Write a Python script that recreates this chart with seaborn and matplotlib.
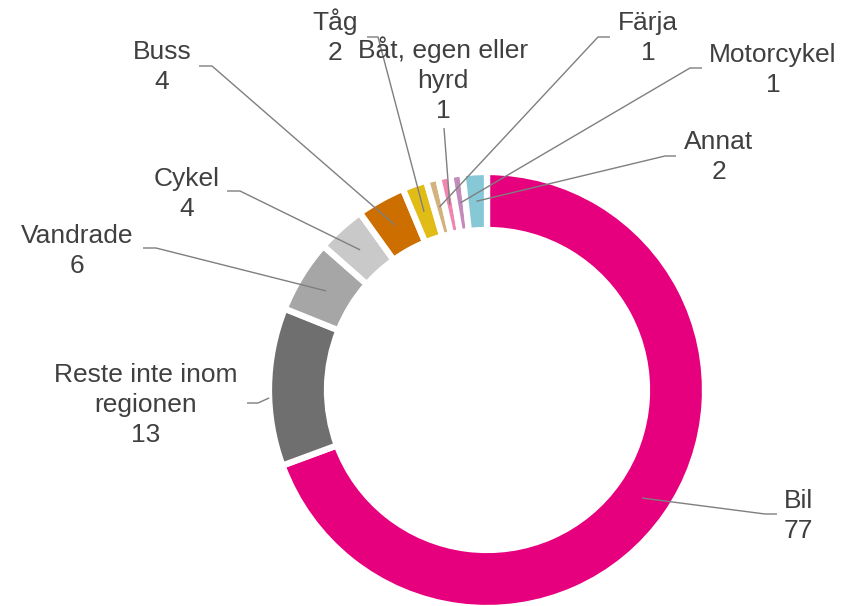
import numpy as np
import matplotlib
matplotlib.use("Agg")
import matplotlib.pyplot as plt
import seaborn as sns

# data, clockwise from 12 o'clock
categories = ["Bil", "Reste inte inom\nregionen", "Vandrade", "Cykel", "Buss",
              "Tåg", "Färja", "Båt, egen eller\nhyrd", "Motorcykel", "Annat"]
values = [77, 13, 6, 4, 4, 2, 1, 1, 1, 2]
colors = ["#E6007E", "#6F6F6F", "#A6A6A6", "#C9C9C9", "#CC6F00",
          "#E2BC16", "#D2B37E", "#EE86AE", "#C38BBB", "#86C8D6"]

# label centres and leader-line start/elbow (pixels, y from top)
label_pos = [(798, 516), (146, 405), (77, 251), (187, 194), (162, 67),
             (335, 37), (648, 38), (443, 80), (773, 70), (719, 157)]
leaders = [[(777, 514), (765, 514)],
           [(247, 403), (258, 403)],
           [(143, 248), (156, 248)],
           [(227, 191), (240, 191)],
           [(199, 66), (212, 66)],
           [(367, 37), (378, 37)],
           [(610, 37), (598, 37)],
           [(444, 128)],
           [(702, 68), (690, 68)],
           [(676, 156), (665, 156)]]

W, H = 843, 606
CX, CY = 487, 390
R_OUT, R_IN = 218, 160

sns.set_theme(style="white")
plt.rcParams["font.family"] = ["Liberation Sans", "DejaVu Sans"]

fig = plt.figure(figsize=(W / 100, H / 100), dpi=100)
ax = fig.add_axes([0, 0, 1, 1])

wedges, _ = ax.pie(values, colors=sns.color_palette(colors), startangle=90,
                   counterclock=False, radius=R_OUT, center=(CX, H - CY),
                   wedgeprops=dict(width=R_OUT - R_IN, edgecolor="white", linewidth=4.5))

ax.set_xlim(0, W)
ax.set_ylim(0, H)
ax.set_aspect("equal")
ax.axis("off")

for i, (w, name, val) in enumerate(zip(wedges, categories, values)):
    mid = (w.theta1 + w.theta2) / 2
    r = (R_OUT + R_IN) / 2
    if i == 1:
        # this leader stops at the outer rim, a little below the middle
        mid, r = mid + 2.9, R_OUT
    mid = np.deg2rad(mid)
    end = (CX + r * np.cos(mid), H - CY + r * np.sin(mid))
    pts = [(x, H - y) for x, y in leaders[i]] + [end]
    xs, ys = zip(*pts)
    ax.plot(xs, ys, color="#7F7F7F", lw=1, solid_capstyle="butt")

    lx, ly = label_pos[i]
    ax.text(lx, H - ly, f"{name}\n{val}", ha="center", va="center",
            multialignment="center", fontsize=19, color="#404040", linespacing=1.32)

fig.savefig("out.png", dpi=100)
